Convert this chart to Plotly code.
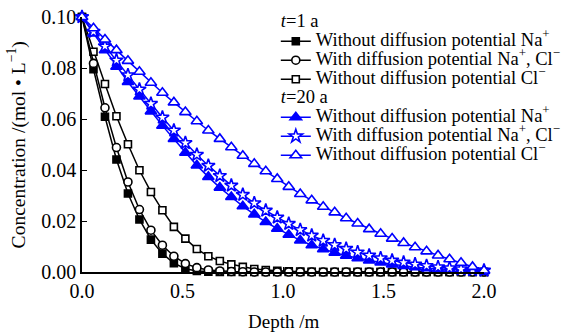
import numpy as np
import plotly.graph_objects as go

n_pts = 36
depth = [round(i * 2.0 / 35, 4) for i in range(n_pts)]

na_t1_without = [0.100, 0.0795, 0.0609, 0.0441, 0.0308, 0.0206, 0.0127, 0.0072, 0.0035, 0.0013,
                 0.0004, 0.0001] + [0.0] * 24
nacl_t1_with = [0.100, 0.0818, 0.0644, 0.0488, 0.0353, 0.0245, 0.0164, 0.0105, 0.0062, 0.0033,
                0.0017, 0.0008, 0.0004, 0.0002, 0.0001] + [0.0] * 21
cl_t1_without = [0.100, 0.0864, 0.0737, 0.0611, 0.0501, 0.0399, 0.0314, 0.0242, 0.0177, 0.0131,
                 0.0090, 0.0062, 0.0043, 0.0030, 0.0020, 0.0012, 0.0008, 0.0005, 0.0003, 0.0002,
                 0.0001] + [0.0] * 15

na_t20_without = [0.100, 0.0935, 0.0870, 0.0805, 0.0745, 0.0688, 0.0630, 0.0574, 0.0522, 0.0468,
                  0.0418, 0.0373, 0.0331, 0.0294, 0.0258, 0.0226, 0.0196, 0.0170, 0.0146, 0.0124,
                  0.0105, 0.0089, 0.0076, 0.0064, 0.0054, 0.0045, 0.0037, 0.0030, 0.0024, 0.0019,
                  0.0015, 0.0012, 0.0009, 0.0007, 0.0005, 0.0004]
nacl_t20_with = [0.100, 0.0942, 0.0885, 0.0830, 0.0772, 0.0716, 0.0660, 0.0606, 0.0555, 0.0506,
                 0.0460, 0.0417, 0.0377, 0.0339, 0.0303, 0.0270, 0.0241, 0.0214, 0.0189, 0.0165,
                 0.0143, 0.0123, 0.0106, 0.0091, 0.0077, 0.0065, 0.0054, 0.0045, 0.0037, 0.0030,
                 0.0024, 0.0019, 0.0015, 0.0011, 0.0008, 0.0006]
cl_t20_without = [0.100, 0.0956, 0.0912, 0.0870, 0.0828, 0.0785, 0.0742, 0.0703, 0.0665, 0.0627,
                  0.0591, 0.0555, 0.0522, 0.0489, 0.0456, 0.0424, 0.0395, 0.0365, 0.0334, 0.0306,
                  0.0281, 0.0256, 0.0234, 0.0211, 0.0190, 0.0168, 0.0150, 0.0131, 0.0114, 0.0097,
                  0.0081, 0.0065, 0.0050, 0.0036, 0.0020, 0.0006]

x_ticks = [0.0, 0.5, 1.0, 1.5, 2.0]
x_tick_labels = ["0.0", "0.5", "1.0", "1.5", "2.0"]
y_ticks = [0.00, 0.02, 0.04, 0.06, 0.08, 0.10]
y_tick_labels = ["0.00", "0.02", "0.04", "0.06", "0.08", "0.10"]

labels = ["Without diffusion potential Na<sup>+</sup>",
          "With diffusion potential Na<sup>+</sup>, Cl<sup>−</sup>",
          "Without diffusion potential Cl<sup>−</sup>"]
group_titles = ["<i>t</i>=1 a", "<i>t</i>=20 a"]
x_title = "Depth /m"
y_title = "Concentration /(mol • L<sup>−1</sup>)"

FONT = "Liberation Serif, Times New Roman, serif"
BLUE = "#0000FF"


def big(s):
    return '<span style="font-size:18.5px">' + s + "</span>"


fig = go.Figure()


def add(y, name, color, symbol, fill, size, group, rank, gtitle=None):
    fig.add_trace(go.Scatter(
        x=depth, y=y, mode="lines+markers", name=big(name),
        line=dict(color=color, width=1.5),
        marker=dict(symbol=symbol, size=size, color=fill,
                    line=dict(color=color, width=1.6)),
        legendgroup=group, legendrank=rank,
        legendgrouptitle=dict(text=big(gtitle)) if gtitle else None,
        cliponaxis=False,
    ))


# draw order: filled squares, open squares, circles; blue: filled tri, stars, open tri
add(na_t1_without, labels[0], "black", "square", "black", 7, "t1", 1, group_titles[0])
add(cl_t1_without, labels[2], "black", "square", "white", 7, "t1", 3)
add(nacl_t1_with, labels[1], "black", "circle", "white", 8, "t1", 2)
add(na_t20_without, labels[0], BLUE, "triangle-up", BLUE, 10, "t20", 4, group_titles[1])
add(nacl_t20_with, labels[1], BLUE, "star", "white", 10, "t20", 5)
add(cl_t20_without, labels[2], BLUE, "triangle-up", "white", 10, "t20", 6)

fig.update_layout(
    width=577, height=336,
    margin=dict(l=82, r=93, t=17, b=64, autoexpand=False),
    paper_bgcolor="white", plot_bgcolor="white",
    font=dict(family=FONT, color="black", size=18),
    showlegend=True,
    legend=dict(x=0.478, y=0.977, xref="container", yref="container",
                xanchor="left", yanchor="top",
                bgcolor="rgba(0,0,0,0)", font=dict(size=12, family=FONT),
                tracegroupgap=0, traceorder="grouped",
                grouptitlefont=dict(size=12, family=FONT)),
    xaxis=dict(range=[0, 2.0], tickvals=x_ticks, ticktext=x_tick_labels,
               showgrid=False, zeroline=False, showline=True, linecolor="black",
               linewidth=1.5, ticks="inside", ticklen=5, tickcolor="black",
               tickfont=dict(size=20, family=FONT), automargin=False),
    yaxis=dict(range=[0, 0.10], tickvals=y_ticks, ticktext=y_tick_labels,
               showgrid=False, zeroline=False, showline=True, linecolor="black",
               linewidth=1.5, ticks="inside", ticklen=5, tickcolor="black",
               tickfont=dict(size=20, family=FONT), automargin=False),
    annotations=[
        dict(text=x_title, xref="paper", yref="paper", x=0.5, y=-0.196,
             xanchor="center", yanchor="middle", showarrow=False,
             font=dict(size=19, family=FONT, color="black")),
        dict(text=y_title, xref="paper", yref="paper", x=-0.162, y=0.5,
             xanchor="center", yanchor="middle", showarrow=False, textangle=-90,
             font=dict(size=19.5, family=FONT, color="black")),
    ],
)

fig.write_html("out.html")
